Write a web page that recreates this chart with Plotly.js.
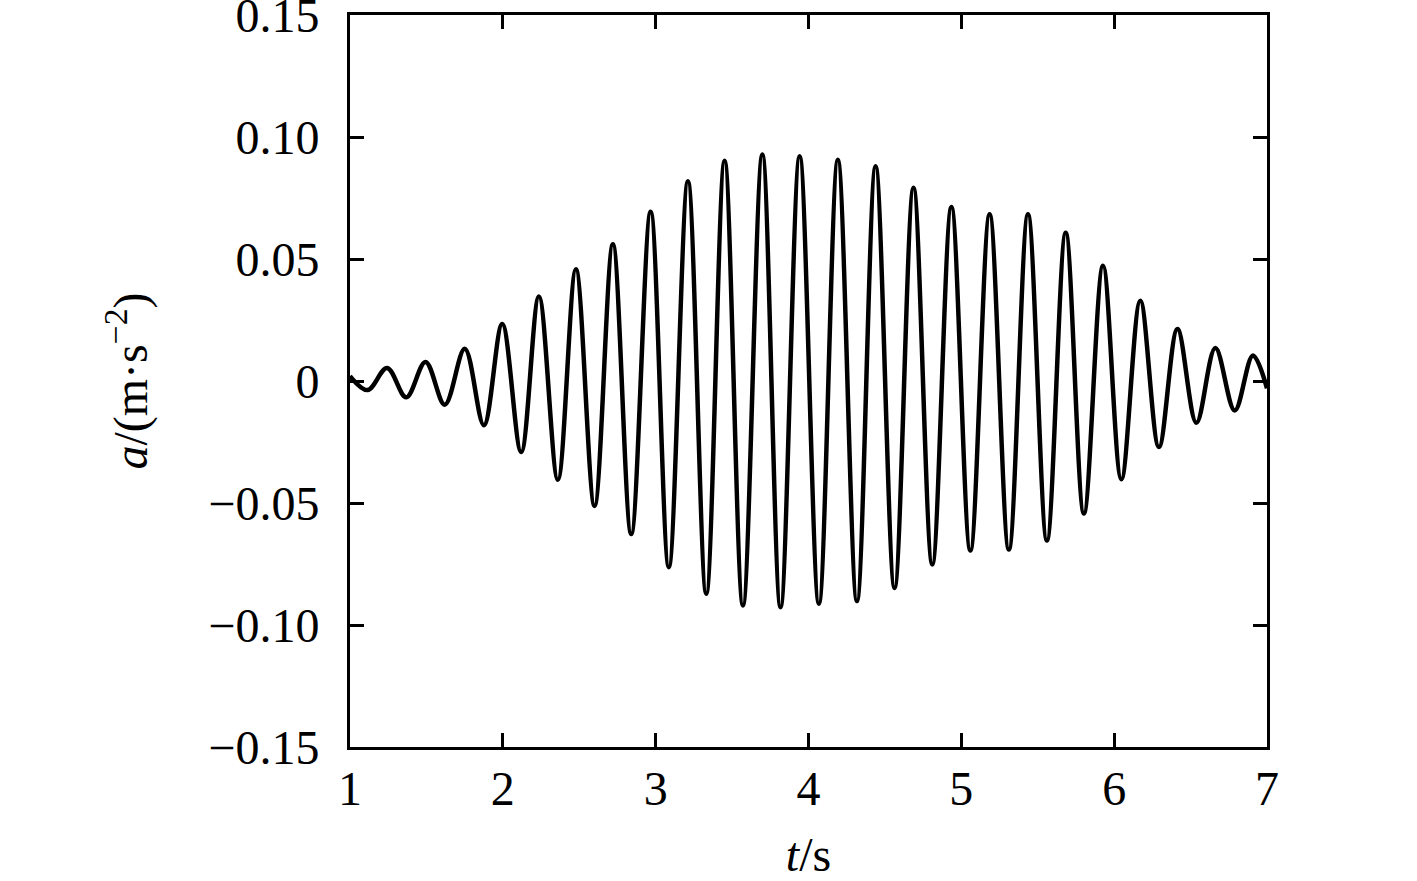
<!DOCTYPE html>
<html>
<head>
<meta charset="utf-8">
<script src="https://cdn.plot.ly/plotly-3.0.1.min.js"></script>
<style>html,body{margin:0;padding:0;background:#fff;}#chart{width:1417px;height:881px;}</style>
</head>
<body>
<div id="chart"></div>
<script>
// Time (s) of each extremum
const timeS = [1.000, 1.115, 1.243, 1.368, 1.494, 1.620, 1.751, 1.876, 1.996, 2.120,
  2.236, 2.360, 2.478, 2.600, 2.720, 2.840, 2.967, 3.086, 3.211, 3.331,
  3.451, 3.571, 3.698, 3.817, 3.942, 4.068, 4.192, 4.317, 4.439, 4.563,
  4.687, 4.810, 4.935, 5.059, 5.185, 5.311, 5.436, 5.560, 5.683, 5.802,
  5.927, 6.047, 6.171, 6.293, 6.414, 6.538, 6.662, 6.789, 6.908, 7.000];
// Acceleration (m/s^2) at those points
const accel = [0.0020, -0.0037, 0.0053, -0.0067, 0.0078, -0.0097, 0.0132, -0.0181, 0.0234, -0.0291,
  0.0346, -0.0405, 0.0458, -0.0512, 0.0560, -0.0627, 0.0694, -0.0763, 0.0819, -0.0872,
  0.0903, -0.0920, 0.0928, -0.0927, 0.0921, -0.0913, 0.0907, -0.0902, 0.0880, -0.0848,
  0.0792, -0.0752, 0.0713, -0.0695, 0.0683, -0.0691, 0.0683, -0.0654, 0.0608, -0.0543,
  0.0472, -0.0403, 0.0329, -0.0271, 0.0213, -0.0171, 0.0135, -0.0121, 0.0105, -0.0030];

const xTickVals = [1, 2, 3, 4, 5, 6, 7];
const xTickText = ['1', '2', '3', '4', '5', '6', '7'];
const yTickVals = [0.15, 0.10, 0.05, 0, -0.05, -0.10, -0.15];
const yTickText = ['0.15', '0.10', '0.05', '0', '\u22120.05', '\u22120.10', '\u22120.15'];

const FONT = 'Liberation Serif, Times New Roman, serif';
const FS = 48;

const trace = {
  x: timeS, y: accel, type: 'scatter', mode: 'lines',
  line: {color: '#000', width: 4.5, shape: 'spline', smoothing: 1},
  hoverinfo: 'skip'
};

const axisCommon = {
  showline: true, linecolor: '#000', linewidth: 3, mirror: 'ticks',
  ticks: 'inside', ticklen: 14, tickwidth: 3, tickcolor: '#000',
  showgrid: false, zeroline: false, tickmode: 'array',
  ticklabeloverflow: 'allow',
  tickfont: {family: FONT, size: FS, color: '#000'}
};

const layout = {
  width: 1417, height: 881,
  margin: {l: 350, r: 150, t: 15, b: 134},
  paper_bgcolor: '#fff', plot_bgcolor: '#fff',
  showlegend: false,
  xaxis: Object.assign({}, axisCommon, {
    range: [1, 7], tickvals: xTickVals, ticktext: xTickText,
    ticklabelstandoff: -3,
    title: {text: '<i>t</i>/s', font: {family: FONT, size: FS, color: '#000'}, standoff: 33}
  }),
  yaxis: Object.assign({}, axisCommon, {
    range: [-0.15, 0.15], tickvals: yTickVals, ticktext: yTickText,
    ticklabelstandoff: 18,
    title: {text: '<i>a</i>/(m·s<sup>−2</sup>)', font: {family: FONT, size: FS, color: '#000'}, standoff: 46}
  })
};

Plotly.newPlot('chart', [trace], layout, {displayModeBar: false, staticPlot: true});
</script>
</body>
</html>
